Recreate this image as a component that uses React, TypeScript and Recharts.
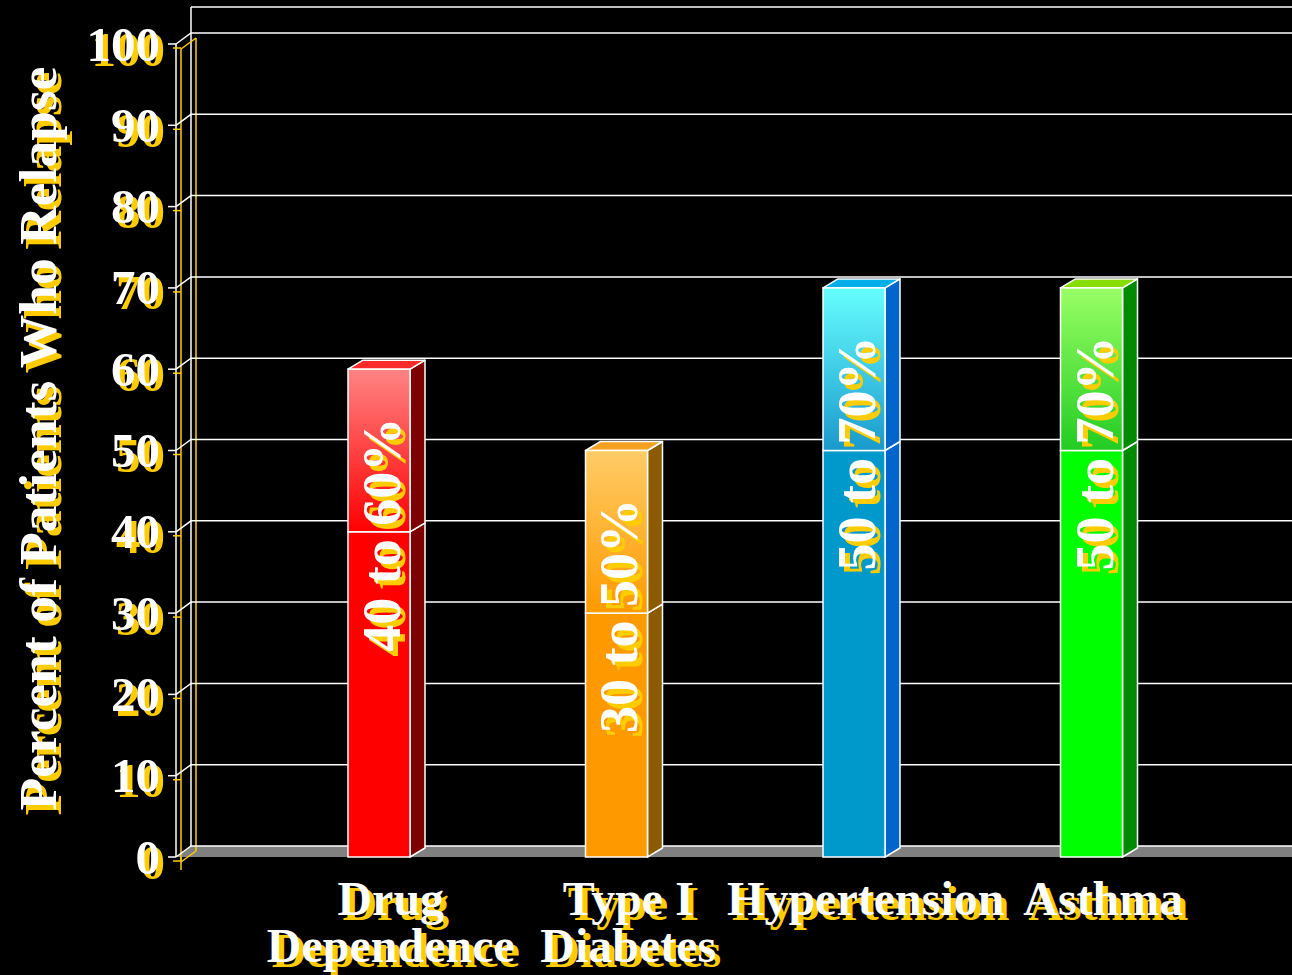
import React from 'react';
import { BarChart, Bar, XAxis, YAxis, CartesianGrid, LabelList } from 'recharts';

// ---- data ----
const categories = ['Drug Dependence', 'Type I Diabetes', 'Hypertension', 'Asthma'];
const categoryLines = [['Drug', 'Dependence'], ['Type I', 'Diabetes'], ['Hypertension'], ['Asthma']];
const lowValues = [40, 30, 50, 50];
const highValues = [60, 50, 70, 70];
const rangeLabels = ['40 to 60%', '30 to 50%', '50 to 70%', '50 to 70%'];
const yTicks = [0, 10, 20, 30, 40, 50, 60, 70, 80, 90, 100];
const yAxisTitle = 'Percent of Patients Who Relapse';

const data = categories.map((name, i) => ({
  name,
  low: lowValues[i],
  span: highValues[i] - lowValues[i],
  label: rangeLabels[i],
}));

// ---- styles ----
const W = 1292;
const H = 975;
const MARGIN_TOP = 44;
const XAXIS_H = 118;
const YAXIS_W = 176;
const PLOT_LEFT = YAXIS_W;
const PLOT_TOP = MARGIN_TOP;
const PLOT_BOTTOM = H - XAXIS_H;
const WALL_DX = 15;
const WALL_DY = 11;
const BAR_DX = 15;
const BAR_DY = 9;
const FONT = '"Liberation Serif", "Times New Roman", Times, serif';
const YELLOW = '#FFCC00';
const SH = 5;

const frontLow = ['#FF0000', '#FF9900', '#0099CC', '#00FF00'];
const frontTop = ['#FF8484', '#FFCC66', '#66FFFF', '#99FF66'];
const frontMid = ['#FF0000', '#FF9900', '#1A99CC', '#22CC22'];
const sideColor = ['#7F0000', '#8C5A00', '#0066CC', '#008A00'];
const topColor = ['#FF2A2A', '#F5A020', '#00AEEA', '#88DD00'];

const ShadowText = ({ x, y, children, size, anchor = 'middle', rotate = 0, baseline }: any) => {
  const common: any = {
    fontFamily: FONT,
    fontWeight: 'bold',
    fontSize: size,
    textAnchor: anchor,
    dominantBaseline: baseline,
  };
  const tr = rotate ? `rotate(${rotate}, ${x}, ${y})` : undefined;
  return (
    <g>
      <g transform={`translate(${SH}, ${SH})`}>
        <text x={x} y={y} fill={YELLOW} transform={tr} {...common}>{children}</text>
      </g>
      <text x={x} y={y} fill="#FFFFFF" transform={tr} {...common}>{children}</text>
    </g>
  );
};

const LowerShape = (p: any) => {
  const { x, y, width: w, height: h, index: i } = p;
  if (!h || h <= 0) return null;
  return (
    <g>
      <polygon
        points={`${x + w},${y} ${x + w + BAR_DX},${y - BAR_DY} ${x + w + BAR_DX},${y + h - BAR_DY} ${x + w},${y + h}`}
        fill={sideColor[i]}
        stroke="#FFFFFF"
        strokeWidth={1.5}
        strokeLinejoin="round"
      />
      <rect x={x} y={y} width={w} height={h} fill={frontLow[i]} stroke="#FFFFFF" strokeWidth={1.5} />
    </g>
  );
};

const UpperShape = (p: any) => {
  const { x, y, width: w, height: h, index: i } = p;
  if (!h || h <= 0) return null;
  const gid = `upgrad-${i}`;
  return (
    <g>
      <defs>
        <linearGradient id={gid} x1="0" y1="0" x2="0" y2="1">
          <stop offset="0%" stopColor={frontTop[i]} />
          <stop offset="100%" stopColor={frontMid[i]} />
        </linearGradient>
      </defs>
      <polygon
        points={`${x + w},${y} ${x + w + BAR_DX},${y - BAR_DY} ${x + w + BAR_DX},${y + h - BAR_DY} ${x + w},${y + h}`}
        fill={sideColor[i]}
        stroke="#FFFFFF"
        strokeWidth={1.5}
        strokeLinejoin="round"
      />
      <polygon
        points={`${x},${y} ${x + BAR_DX},${y - BAR_DY} ${x + w + BAR_DX},${y - BAR_DY} ${x + w},${y}`}
        fill={topColor[i]}
        stroke="#FFFFFF"
        strokeWidth={1.5}
        strokeLinejoin="round"
      />
      <rect x={x} y={y} width={w} height={h} fill={`url(#${gid})`} stroke="#FFFFFF" strokeWidth={1.5} />
    </g>
  );
};

const RangeLabel = (p: any) => {
  const { x, y, width, height, value } = p;
  const cx = Number(x) + Number(width) / 2 + 3;
  const cy = Number(y) + Number(height) + 3;
  return <ShadowText x={cx} y={cy} size={54} rotate={-90} baseline="central">{value}</ShadowText>;
};

const GridLine = (p: any) => {
  const { x1, y1, x2, index } = p;
  const bx = x1 + WALL_DX;
  const by = y1 - WALL_DY;
  const isFloor = Math.abs(y1 - PLOT_BOTTOM) < 1;
  const isTop = Math.abs(y1 - PLOT_TOP) < 1;
  return (
    <g key={`grid-${index}`}>
      {isFloor && (
        <g>
          <polygon points={`${x1},${y1} ${bx},${by} ${x2},${by} ${x2},${y1}`} fill="#808080" />
          <line x1={bx} y1={7} x2={x2} y2={7} stroke="#FFFFFF" strokeWidth={1.5} />
          <line x1={bx} y1={7} x2={bx} y2={by} stroke="#FFFFFF" strokeWidth={1.5} />
          <line x1={x1 + SH} y1={PLOT_TOP + SH} x2={x1 + SH} y2={y1 + SH} stroke={YELLOW} strokeWidth={1.5} />
          <line x1={bx + SH} y1={PLOT_TOP - WALL_DY + SH} x2={bx + SH} y2={by + SH} stroke={YELLOW} strokeWidth={1.5} />
          <line x1={x1 + SH} y1={y1 + SH} x2={bx + SH} y2={by + SH} stroke={YELLOW} strokeWidth={1.5} />
          <line x1={x1 + SH} y1={y1} x2={x1 + SH} y2={y1 + 13} stroke={YELLOW} strokeWidth={1.5} />
        </g>
      )}
      {isTop && (
        <line x1={x1 + SH} y1={y1 + SH} x2={bx + SH} y2={by + SH} stroke={YELLOW} strokeWidth={1.5} />
      )}
      <polyline points={`${x1},${y1} ${bx},${by} ${x2},${by}`} fill="none" stroke="#FFFFFF" strokeWidth={1.5} />
    </g>
  );
};

const YTick = (p: any) => {
  const { x, y, payload } = p;
  return (
    <g>
      <line x1={PLOT_LEFT - 8 + SH} y1={y + 4} x2={PLOT_LEFT + SH} y2={y + 4} stroke={YELLOW} strokeWidth={1.5} />
      <ShadowText x={x} y={y} size={49} anchor="end" baseline="central">{payload.value}</ShadowText>
    </g>
  );
};

const XTick = (p: any) => {
  const { x, payload } = p;
  const idx = categories.indexOf(payload.value);
  const lines = idx >= 0 ? categoryLines[idx] : [String(payload.value)];
  return (
    <g>
      {lines.map((t, k) => (
        <ShadowText key={k} x={x + 12} y={PLOT_BOTTOM + 58 + k * 47} size={48} anchor="middle">{t}</ShadowText>
      ))}
    </g>
  );
};

const YTitle = (p: any) => {
  const vb = p.viewBox || { y: PLOT_TOP, height: PLOT_BOTTOM - PLOT_TOP };
  const cy = vb.y + vb.height / 2 - 12;
  return <ShadowText x={38} y={cy} size={53.5} rotate={-90} baseline="central">{yAxisTitle}</ShadowText>;
};

export default function App() {
  return (
    <div style={{ position: 'absolute', left: 0, top: 0, width: W, height: H, background: '#000000', overflow: 'hidden' }}>
      <BarChart width={W} height={H} data={data} margin={{ top: MARGIN_TOP, right: 0, bottom: 0, left: 0 }}>
        <CartesianGrid vertical={false} horizontal={GridLine as any} />
        <XAxis
          dataKey="name"
          height={XAXIS_H}
          axisLine={false}
          tickLine={false}
          interval={0}
          padding={{ left: 84, right: 82 }}
          tick={<XTick />}
        />
        <YAxis
          width={YAXIS_W}
          domain={[0, 100]}
          ticks={yTicks}
          interval={0}
          tickSize={8}
          tickMargin={8}
          axisLine={{ stroke: '#FFFFFF', strokeWidth: 1.5 }}
          tickLine={{ stroke: '#FFFFFF', strokeWidth: 1.5 }}
          tick={<YTick />}
          label={<YTitle />}
        />
        <Bar dataKey="low" stackId="a" barSize={62} isAnimationActive={false} shape={<LowerShape />} />
        <Bar dataKey="span" stackId="a" barSize={62} isAnimationActive={false} shape={<UpperShape />}>
          <LabelList dataKey="label" content={<RangeLabel />} />
        </Bar>
      </BarChart>
    </div>
  );
}
